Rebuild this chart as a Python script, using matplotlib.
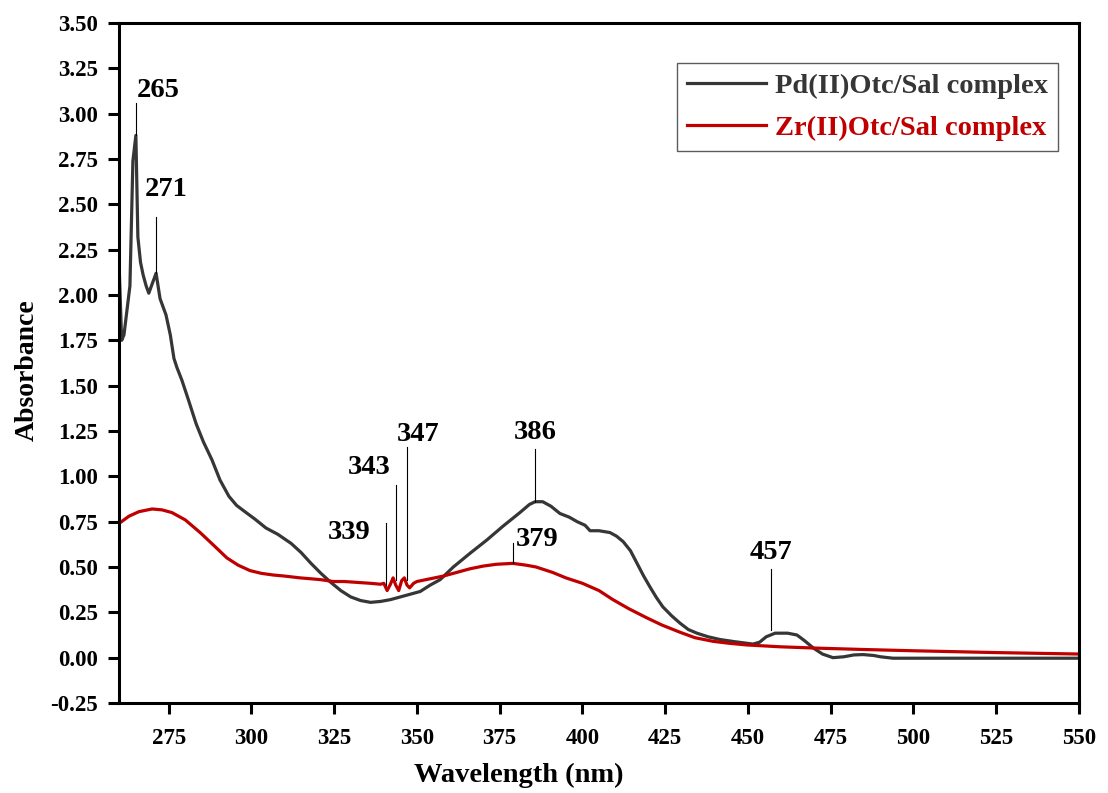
import numpy as np
import matplotlib
matplotlib.use("Agg")
import matplotlib.pyplot as plt

# Pd(II)Otc/Sal complex spectrum
pd_wl = [260, 260.8, 261.5, 262.5, 263.3, 264.2, 265.1, 265.7, 266.5, 267.3, 268.2, 269.0,
         270.0, 271.2, 272.4, 274.2, 275.5, 276.6, 277.5, 279.0, 281.0, 283.3, 285.5, 288.1,
         290.5, 293.2, 295.5, 298.4, 301.0, 304.4, 308.0, 312.0, 315.0, 318.0, 321.0, 324.0,
         327.0, 330.0, 333.0, 336.0, 339.0, 342.0, 345.0, 348.0, 351.0, 354.0, 357.0, 361.0,
         366.0, 371.2, 376.0, 381.1, 384.0, 385.7, 388.0, 390.5, 393.2, 396.0, 398.4, 400.8,
         402.3, 405.0, 408.3, 410.3, 412.3, 414.5, 416.5, 418.5, 420.4, 422.4, 424.3, 427.0,
         429.5, 432.0, 434.6, 438.0, 441.6, 446.0, 451.5, 453.5, 455.5, 458.2, 462.0, 464.8,
         467.0, 469.7, 472.5, 475.7, 479.0, 482.0, 484.8, 488.0, 490.0, 493.8, 500.0, 550.0]
pd_abs = [2.18, 1.75, 1.78, 1.93, 2.05, 2.74, 2.88, 2.32, 2.18, 2.11, 2.05, 2.01,
          2.06, 2.12, 1.98, 1.89, 1.78, 1.65, 1.60, 1.53, 1.42, 1.29, 1.19, 1.09,
          0.98, 0.89, 0.84, 0.80, 0.765, 0.715, 0.68, 0.63, 0.58, 0.52, 0.465, 0.415,
          0.37, 0.335, 0.315, 0.305, 0.31, 0.32, 0.335, 0.35, 0.365, 0.40, 0.43, 0.50,
          0.575, 0.65, 0.725, 0.80, 0.845, 0.86, 0.86, 0.835, 0.795, 0.775, 0.75, 0.73,
          0.70, 0.70, 0.69, 0.67, 0.64, 0.59, 0.52, 0.45, 0.39, 0.33, 0.28, 0.23,
          0.19, 0.155, 0.135, 0.115, 0.10, 0.088, 0.075, 0.085, 0.115, 0.135, 0.135, 0.125,
          0.095, 0.054, 0.02, 0.0, 0.005, 0.015, 0.017, 0.012, 0.005, -0.003, -0.003, -0.003]

# Zr(II)Otc/Sal complex spectrum
zr_wl = [260, 263, 266, 270, 273, 276, 280, 284.5, 288, 292.6, 296, 299.6,
         303, 306.5, 310, 314.7, 318, 321, 324.7, 328, 332, 336, 339, 340, 341,
         342, 342.8, 343.6, 344.5, 345.4, 346.2, 347.0, 347.8, 349, 350, 354, 358,
         362, 366, 370, 374, 379, 383, 386, 391, 395, 400, 405, 409.2, 414, 419.4,
         424, 429.5, 434, 439.5, 444, 449.7, 459.7, 470, 485, 500, 525, 550]
zr_abs = [0.74, 0.78, 0.805, 0.82, 0.815, 0.80, 0.76, 0.69, 0.63, 0.55, 0.51, 0.48,
          0.465, 0.456, 0.45, 0.44, 0.435, 0.43, 0.42, 0.42, 0.415, 0.41, 0.405, 0.41, 0.37,
          0.405, 0.44, 0.40, 0.37, 0.425, 0.44, 0.40, 0.385, 0.41, 0.42, 0.435, 0.45,
          0.47, 0.49, 0.505, 0.515, 0.52, 0.51, 0.50, 0.47, 0.44, 0.41, 0.37, 0.32, 0.27, 0.22,
          0.18, 0.14, 0.11, 0.09, 0.08, 0.07, 0.06, 0.053, 0.045, 0.038, 0.028, 0.02]

# peak labels: text, x of marker line, line bottom, line top, text centre x, text centre y
peak_labels = ["265", "271", "339", "343", "347", "386", "379", "457"]
peak_x = [265.1, 271.2, 340.7, 343.7, 347.0, 385.7, 379.0, 457.0]
line_lo = [2.88, 2.12, 0.40, 0.43, 0.43, 0.86, 0.52, 0.15]
line_hi = [3.06, 2.43, 0.74, 0.95, 1.16, 1.15, 0.63, 0.49]
text_x = [271.8, 274.2, 329.5, 335.5, 350.3, 385.7, 386.3, 457.0]
text_y = [3.13, 2.58, 0.69, 1.05, 1.23, 1.24, 0.65, 0.58]

plt.rcParams['font.family'] = ['Liberation Serif', 'DejaVu Serif']
plt.rcParams['font.weight'] = 'bold'

fig = plt.figure(figsize=(11.08, 7.93), dpi=100)
ax = fig.add_axes([0.1074, 0.1135, 0.8664, 0.8575])

pd_col = '#363636'
zr_col = '#c00000'
ax.plot(pd_wl, pd_abs, color=pd_col, lw=2.3, label='Pd(II)Otc/Sal complex')
ax.plot(zr_wl, zr_abs, color=zr_col, lw=2.3, label='Zr(II)Otc/Sal complex')

for lab, px, lo, hi, tx, ty in zip(peak_labels, peak_x, line_lo, line_hi, text_x, text_y):
    ax.plot([px, px], [lo, hi], color='black', lw=0.8)
    ax.text(tx, ty, lab, fontsize=20.5, fontweight='bold', ha='center', va='center')

ax.set_xlim(260, 550)
ax.set_ylim(-0.25, 3.5)
ax.set_xticks(np.arange(275, 551, 25))
ax.set_yticks(np.arange(-0.25, 3.51, 0.25))
ax.set_yticklabels([f"{v:.2f}" for v in np.arange(-0.25, 3.51, 0.25)])
ax.tick_params(direction='out', length=8, width=2.2, labelsize=16.5)
ax.tick_params(axis='y', pad=7)
ax.tick_params(axis='x', pad=10)
for lab in ax.get_xticklabels() + ax.get_yticklabels():
    lab.set_fontweight('bold')
for sp in ax.spines.values():
    sp.set_linewidth(2.2)

ax.set_xlabel('Wavelength (nm)', fontsize=20.5, fontweight='bold')
ax.set_ylabel('Absorbance', fontsize=20, fontweight='bold')
ax.xaxis.set_label_coords(0.416, -0.088)
ax.yaxis.set_label_coords(-0.083, 0.49)

leg = ax.legend(loc='upper right', bbox_to_anchor=(0.978, 0.941), fontsize=20.5,
                frameon=True, fancybox=False, edgecolor='#333333', handlelength=2.8,
                handletextpad=0.3, borderpad=0.35, labelspacing=0.55, borderaxespad=0)
leg.get_frame().set_linewidth(1)
for t, c in zip(leg.get_texts(), [pd_col, zr_col]):
    t.set_color(c)
    t.set_fontweight('bold')

fig.savefig('out.png', dpi=100)
